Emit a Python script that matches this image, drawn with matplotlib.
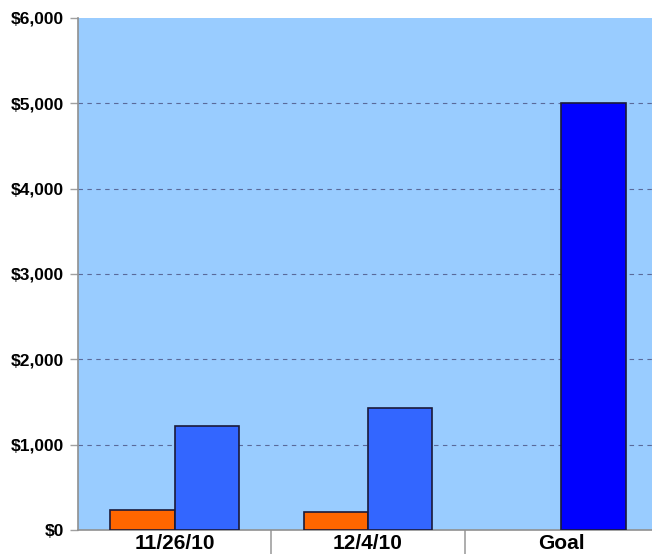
import matplotlib
matplotlib.use("Agg")
import matplotlib.pyplot as plt
import numpy as np
from matplotlib.ticker import FuncFormatter, FixedLocator

categories = ["11/26/10", "12/4/10", "Goal"]
orange_values = [234, 207, 0]
blue_values = [1220, 1428, 5000]
blue_colors = ["#3366FF", "#3366FF", "#0000FF"]
y_ticks = [0, 1000, 2000, 3000, 4000, 5000, 6000]

plt.rcParams['font.family'] = ['Liberation Sans', 'DejaVu Sans']

fig = plt.figure(figsize=(6.52, 5.54), dpi=100)
ax = fig.add_axes([78/652, 1 - 530/554, 580/652, 512/554])
ax.set_facecolor("#99CCFF")

x = np.arange(len(categories))
w = 0.333
for i in range(len(categories)):
    if orange_values[i] > 0:
        ax.bar(x[i] - w/2, orange_values[i], width=w, color="#FF6600",
               edgecolor="#1a1a3a", linewidth=1.2, zorder=3)
    ax.bar(x[i] + w/2, blue_values[i], width=w, color=blue_colors[i],
           edgecolor="#1a1a3a", linewidth=1.2, zorder=3)

ax.set_xlim(-0.5, 2.5)
ax.set_ylim(0, 6000)
ax.set_yticks(y_ticks)
ax.yaxis.set_major_formatter(FuncFormatter(lambda v, p: "${:,.0f}".format(v)))
for t in y_ticks[1:-1]:
    ax.axhline(t, color="#5a6a9a", linestyle=(0, (4, 4)), linewidth=0.8, zorder=1)

ax.set_xticks(x)
ax.set_xticklabels(categories, fontsize=15, fontweight='bold')
ax.tick_params(axis='x', length=0, pad=3)
ax.xaxis.set_minor_locator(FixedLocator([0.5, 1.5]))
ax.tick_params(axis='x', which='minor', length=26, color="#a0a0a0", width=1.2)
ax.tick_params(axis='y', length=6, color="#a0a0a0", width=1, labelsize=12.5, pad=4)
for lab in ax.get_yticklabels():
    lab.set_fontweight('bold')

for s in ['top', 'right']:
    ax.spines[s].set_visible(False)
ax.spines['left'].set_color("#909090")
ax.spines['left'].set_linewidth(1.2)
ax.spines['bottom'].set_color("#909090")
ax.spines['bottom'].set_linewidth(1.2)

fig.savefig("out.png", dpi=100)
